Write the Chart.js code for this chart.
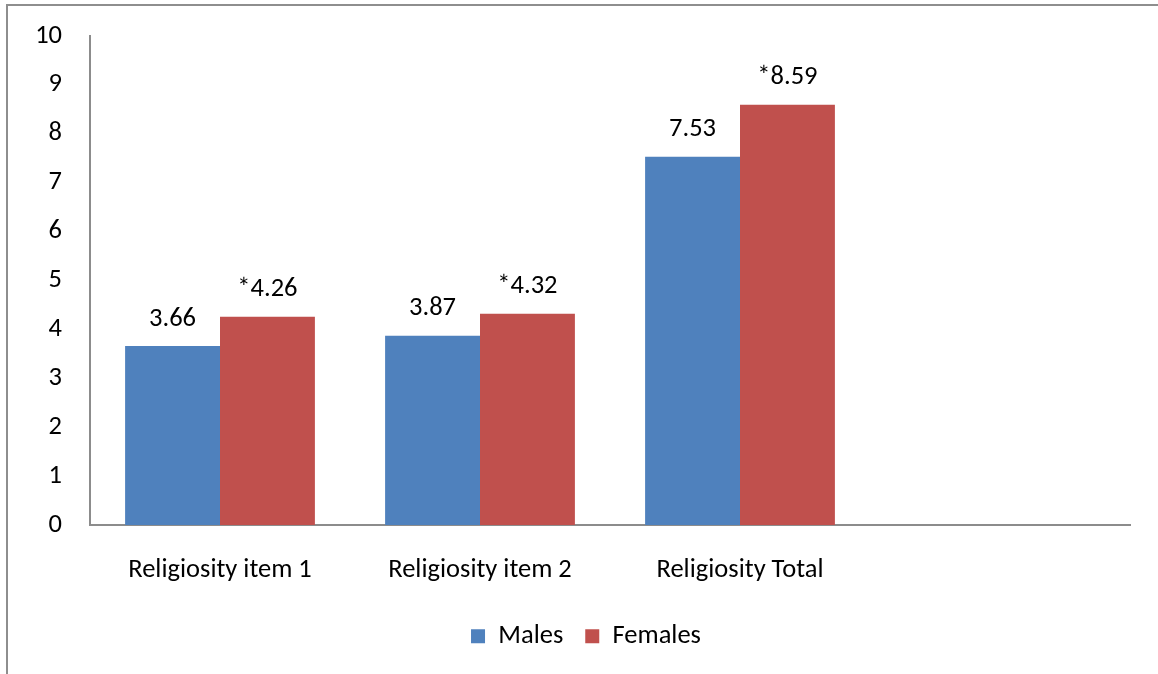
<!DOCTYPE html>
<html>
<head>
<meta charset="utf-8">
<script src="https://cdn.jsdelivr.net/npm/chart.js@4.4.0/dist/chart.umd.min.js"></script>
<style>
    body { margin: 0; background: #fff; }
    #wrap { position: relative; width: 1158px; height: 674px; overflow: hidden; }
    #frame { position: absolute; left: 6px; top: 4px; width: 1200px; height: 700px;
             border-left: 2px solid #8e8e8e; border-top: 2px solid #8e8e8e; }
    canvas { position: absolute; left: 0; top: 0; }
</style>
</head>
<body>
<div id="wrap">
    <div id="frame"></div>
    <canvas id="barChart" width="1158" height="674"></canvas>
</div>
<script>
// categories (4th slot is empty in the original chart)
var categories = ['Religiosity item 1', 'Religiosity item 2', 'Religiosity Total', '']
var malesData = [3.66, 3.87, 7.53, null]
var femalesData = [4.26, 4.32, 8.59, null]
// text shown above the bars
var malesLabels = ['3.66', '3.87', '7.53', '']
var femalesLabels = ['*4.26', '*4.32', '*8.59', '']
var yTicks = [0, 1, 2, 3, 4, 5, 6, 7, 8, 9, 10]

var fontFamily = 'Carlito, "Open Sans", "Noto Sans", sans-serif'
var fontSize = 26.5
var textColor = '#000000'
var axisColor = '#8c8c8c'

// draws the value labels above each bar
var barLabelPlugin = {
    id: 'barLabels',
    afterLayout: function (chart) {
        // the legend sits a bit right of centre in the original
        chart.legend.left += 21
        chart.legend.right += 21
    },
    afterDatasetsDraw: function (chart) {
        var ctx = chart.ctx
        var texts = [malesLabels, femalesLabels]
        ctx.save()
        ctx.font = fontSize + 'px ' + fontFamily
        ctx.fillStyle = textColor
        ctx.textAlign = 'center'
        ctx.textBaseline = 'middle'
        chart.data.datasets.forEach(function (ds, i) {
            var meta = chart.getDatasetMeta(i)
            meta.data.forEach(function (bar, j) {
                if (ds.data[j] == null) return
                ctx.fillText(texts[i][j], bar.x, bar.y - 27)
            })
        })
        ctx.restore()
    }
}

var chartData = {
    labels: categories,
    datasets: [
        {
            label: 'Males',
            data: malesData,
            backgroundColor: '#4f81bd',
            borderWidth: 0
        },
        {
            label: 'Females',
            data: femalesData,
            backgroundColor: '#c0504d',
            borderWidth: 0
        }
    ]
}

var barChart = new Chart(document.getElementById('barChart').getContext('2d'), {
    type: 'bar',
    data: chartData,
    plugins: [barLabelPlugin],
    options: {
        responsive: false,
        devicePixelRatio: 1,
        animation: false,
        layout: { padding: { left: 0, right: 28, top: 32, bottom: 14.5 } },
        datasets: {
            bar: { categoryPercentage: 0.73, barPercentage: 1.0 }
        },
        plugins: {
            tooltip: { enabled: false },
            legend: {
                position: 'bottom',
                labels: {
                    color: textColor,
                    font: { family: fontFamily, size: fontSize },
                    boxWidth: 14,
                    boxHeight: 14,
                    padding: 22
                }
            }
        },
        scales: {
            x: {
                grid: { display: false },
                border: { display: true, color: axisColor, width: 2 },
                ticks: {
                    color: textColor,
                    font: { family: fontFamily, size: fontSize },
                    padding: 21,
                    maxRotation: 0
                },
                afterFit: function (scale) { scale.height = 76 }
            },
            y: {
                min: 0,
                max: 10,
                afterBuildTicks: function (scale) {
                    scale.ticks = yTicks.map(function (v) { return { value: v } })
                },
                grid: { display: false },
                border: { display: true, color: axisColor, width: 2 },
                ticks: {
                    color: textColor,
                    font: { family: fontFamily, size: fontSize },
                    padding: 20
                },
                afterFit: function (scale) { scale.width = 90 }
            }
        }
    }
})
</script>
</body>
</html>
